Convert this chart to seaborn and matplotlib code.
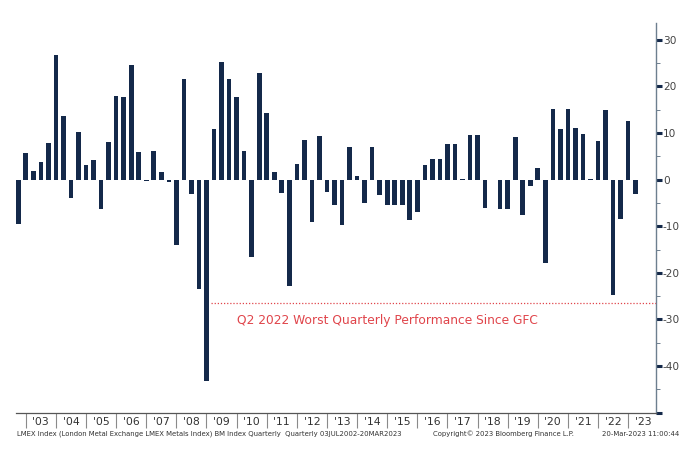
import numpy as np
import pandas as pd
import matplotlib
matplotlib.use("Agg")
import matplotlib.pyplot as plt
import seaborn as sns

# quarterly % change of the LMEX index, Q3 2002 .. Q1 2023
quarters = [str(p) for p in pd.period_range("2002Q3", "2023Q1", freq="Q")]
returns = [
    -9.5, 5.8,                      # 2002
    1.8, 3.8, 7.8, 26.8,            # 2003
    13.6, -3.9, 10.3, 3.2,          # 2004
    4.3, -6.4, 8.0, 17.9,           # 2005
    17.7, 24.5, 5.9, -0.4,          # 2006
    6.2, 1.7, -0.6, -14.1,          # 2007
    21.5, -3.0, -23.4, -43.3,       # 2008
    10.8, 25.2, 21.5, 17.7,         # 2009
    6.2, -16.7, 22.9, 14.3,         # 2010
    1.7, -2.9, -22.9, 3.4,          # 2011
    8.5, -9.0, 9.3, -2.6,           # 2012
    -5.5, -9.8, 7.0, 0.8,           # 2013
    -5.0, 7.1, -3.4, -5.5,          # 2014
    -5.5, -5.4, -8.7, -6.9,         # 2015
    3.2, 4.5, 4.5, 7.6,             # 2016
    7.6, 0.15, 9.5, 9.5,            # 2017
    -6.0, -0.15, -6.4, -6.4,        # 2018
    9.2, -7.6, -1.4, 2.5,           # 2019
    -17.8, 15.1, 10.8, 15.1,        # 2020
    11.0, 9.7, 0.15, 8.3,           # 2021
    15.0, -24.8, -8.5, 12.5,        # 2022
    -3.0,                           # 2023
]
year_labels = ["'%02d" % y for y in range(3, 24)]
y_ticks = [-50, -40, -30, -20, -10, 0, 10, 20, 30]
y_labels = ["", "-40", "-30", "-20", "-10", "0", "10", "20", "30"]
gfc_level = -26.4
note = "Q2 2022 Worst Quarterly Performance Since GFC"

df = pd.DataFrame({"quarter": quarters, "ret": returns})

sns.set_theme(style="white")
plt.rcParams["font.family"] = ["DejaVu Sans"]

fig = plt.figure(figsize=(7, 4.59), dpi=100)
ax = fig.add_axes([16 / 700, 46.3 / 459, 640 / 700, 389.7 / 459])

navy = "#14294a"
sns.barplot(data=df, x="quarter", y="ret", order=quarters, color=navy,
            saturation=1, width=0.62, linewidth=0, ax=ax)

ax.set_xlim(-0.3, 84.7)
ax.set_ylim(-50, 33.6)
ax.set_xlabel("")
ax.set_ylabel("")

# dotted reference line + note
ax.plot([25.6, 84.7], [gfc_level, gfc_level], ls=(0, (1, 1.5)), lw=0.9,
        color="#e0454b", zorder=3)
ax.text(29.0, -30.2, note, color="#e0454b", fontsize=8.8, va="center", ha="left")

# spines
for s in ["top", "left"]:
    ax.spines[s].set_visible(False)
ax.spines["right"].set_color("#6d7f8f")
ax.spines["right"].set_linewidth(1.0)
ax.spines["bottom"].set_color("#555555")
ax.spines["bottom"].set_linewidth(0.9)

# y axis on the right
ax.yaxis.tick_right()
ax.set_yticks(y_ticks)
ax.set_yticklabels(y_labels)
ax.set_yticks(np.arange(-45, 31, 10), minor=True)
ax.tick_params(axis="y", which="both", right=True, left=False)
ax.tick_params(axis="y", which="major", direction="out", length=4, width=2.2,
               color=navy, labelsize=7.6, labelcolor="#444444", pad=1)
ax.tick_params(axis="y", which="minor", direction="out", length=3, width=0.7,
               color="#6d7f8f")

# x axis: year separators on the Q4 bars, labels in between
ax.set_xticks(np.arange(1, 82, 4))
ax.set_xticklabels([])
ax.tick_params(axis="x", which="both", bottom=True)
ax.tick_params(axis="x", which="major", direction="out", length=10.5,
               width=0.8, color="#8a8a8a")
ax.set_xticks(np.arange(3, 84, 4), minor=True)
ax.set_xticklabels(year_labels, minor=True)
ax.tick_params(axis="x", which="minor", length=0, labelsize=7.8,
               labelcolor="#333333", pad=3)

# footer
foot = dict(fontsize=4.95, color="#333333", va="center")
fig.text(17 / 700, 1 - 434 / 459,
         "LMEX Index (London Metal Exchange LMEX Metals Index) BM Index Quarterly  Quarterly 03JUL2002-20MAR2023",
         ha="left", **foot)
fig.text(433 / 700, 1 - 434 / 459, "Copyright\u00a9 2023 Bloomberg Finance L.P.",
         ha="left", **foot)
fig.text(602 / 700, 1 - 434 / 459, "20-Mar-2023 11:00:44", ha="left", **foot)

fig.savefig("out.png", dpi=100, facecolor="white")
